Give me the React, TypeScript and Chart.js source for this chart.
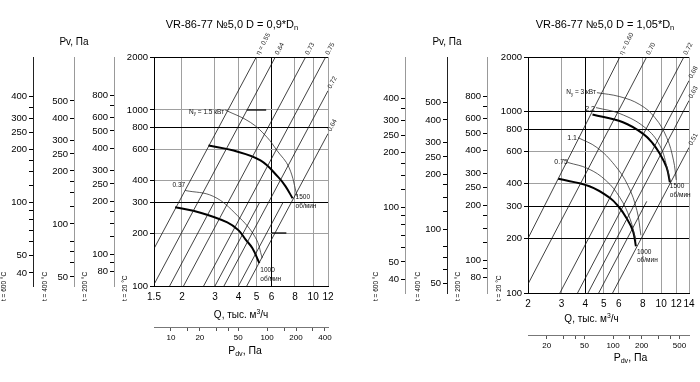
import React, { useEffect, useRef } from 'react';
import { Chart, registerables } from 'chart.js';

Chart.register(...registerables);

const FONT = '"Liberation Sans", Arial, Helvetica, sans-serif';

// ---------- pressure axes (shared by both panels) ----------
const pMainTicks = [100, 200, 300, 400, 600, 800, 1000, 2000];
const pRange = [100, 2000];
const t200Range = [65.8, 1316];
const t400Range = [44.4, 889];
const t600Range = [33.7, 673];
const t200Labelled = [80, 100, 200, 250, 300, 400, 500, 600, 800];
const t200Minor = [90, 125, 150, 175, 700];
const t400Labelled = [50, 100, 200, 250, 300, 400, 500];
const t400Minor = [60, 70, 80, 125, 150, 175];
const t600Labelled = [40, 50, 100, 200, 250, 300, 400];
const t600Minor = [60, 70, 80, 90, 125, 150, 175, 350];

// ---------- left panel (D = 0,9*Dn) ----------
const leftQTicks = [1.42, 2, 3, 4, 5, 6, 8, 10, 12];
const leftQTickLabels = ['1.5', '2', '3', '4', '5', '6', '8', '10', '12'];
const leftQRange = [1.42, 12];
const leftPdvRange = [6.67, 430];
const leftPdvLabelled = [10, 20, 50, 100, 200, 400];
const leftPdvMinor = [15, 30, 40, 150, 300];

const left1500Q = [2.77, 3.77, 5.24, 6.54, 7.13, 7.77];
const left1500P = [628, 588, 517, 414, 368, 315];
const left1000Q = [1.84, 2.51, 3.49, 4.01, 4.36, 4.75, 5.17];
const left1000P = [280, 261, 230, 207, 184, 164, 135];
const leftN15Q = [3.4, 4.63, 5.68, 6.42, 7.43, 8.24];
const leftN15P = [1000, 851, 700, 588, 473, 320];
const leftN037Q = [2.08, 2.94, 3.94, 4.92, 5.36];
const leftN037P = [349, 323, 252, 189, 144];

const leftEtaLines = [
  [1.42, 163, 4.98, 2000],
  [1.42, 102, 6.29, 2000],
  [2.04, 100, 9.12, 2000],
  [2.61, 100, 11.66, 2000],
  [3.35, 100, 12, 1286],
  [4.43, 100, 12, 734],
];
const leftEtaLabels = ['η = 0.55', '0.64', '0.73', '0.75', '0.72', '0.64'];
const leftExtraLines = [
  [1.72, 100, 2.98, 300],
  [3.0, 100, 5.2, 300],
  [4.0, 100, 6.93, 300],
];
const leftDarkSegs = [
  [4.43, 1000, 5.62, 1000],
  [6.0, 200, 7.2, 200],
];
const leftHDark = [2000, 800, 300, 100];
const leftVDark = [6];

// ---------- right panel (D = 1,05*Dn) ----------
const rightQTicks = [2, 3, 4, 5, 6, 8, 10, 12, 14];
const rightQTickLabels = ['2', '3', '4', '5', '6', '8', '10', '12', '14'];
const rightQRange = [2, 14];
const rightPdvRange = [12.7, 631];
const rightPdvLabelled = [20, 50, 100, 200, 500];
const rightPdvMinor = [30, 40, 150, 300, 400];

const right1500Q = [4.36, 6.3, 8.05, 9.04, 9.84, 10.67, 11.11];
const right1500P = [963, 873, 754, 667, 585, 494, 408];
const right1000Q = [2.88, 4.2, 5.37, 6.03, 6.56, 7.11, 7.37];
const right1000P = [426, 388, 335, 296, 260, 220, 181];
const rightN3Q = [4.6, 6.07, 7.73, 9.27, 10.7, 11.6, 12.0];
const rightN3P = [1272, 1209, 1093, 927, 719, 540, 420];
const rightN22Q = [4.55, 6.07, 8.22, 9.84, 10.84, 11.2];
const rightN22P = [1052, 975, 817, 650, 473, 406];
const rightN11Q = [3.66, 4.6, 5.72, 6.69, 7.46, 7.83];
const rightN11P = [719, 634, 505, 392, 285, 208];
const rightN075Q = [3.24, 4.13, 5.13, 6.07, 6.85, 7.37];
const rightN075P = [524, 485, 417, 336, 258, 195];

const rightEtaLines = [
  [2, 200, 6.07, 2000],
  [2, 112, 8.39, 2000],
  [2.94, 100, 13.16, 2000],
  [3.64, 100, 14, 1481],
  [4.13, 100, 14, 1150],
  [5.56, 100, 14, 634],
];
const rightEtaLabels = ['η = 0.60', '0.70', '0.72', '0.68', '0.63', '0.51'];
const rightExtraLines = [[4.7, 100, 8.4, 320]];
const rightDarkSegs: number[][] = [];
const rightHDark = [2000, 1000, 800, 300, 200, 100];
const rightVDark = [4];

type Part = { t: string; sub?: boolean; sup?: boolean };
type Note = { parts: Part[]; q: number; p: number; dx: number; dy: number; align: 'left' | 'right' | 'center'; size: number };

const last = (a: number[]) => a[a.length - 1];

const leftNotes: Note[] = [
  { parts: [{ t: '1500' }], q: last(left1500Q), p: last(left1500P), dx: 3, dy: -1, align: 'left', size: 6.5 },
  { parts: [{ t: 'об/мин' }], q: last(left1500Q), p: last(left1500P), dx: 3, dy: 8, align: 'left', size: 6.5 },
  { parts: [{ t: '1000' }], q: last(left1000Q), p: last(left1000P), dx: 1, dy: 7, align: 'left', size: 6.5 },
  { parts: [{ t: 'об/мин' }], q: last(left1000Q), p: last(left1000P), dx: 1, dy: 16, align: 'left', size: 6.5 },
  { parts: [{ t: 'N' }, { t: 'у', sub: true }, { t: ' = 1.5 кВт' }], q: leftN15Q[0], p: leftN15P[0], dx: -1, dy: 2, align: 'right', size: 6.5 },
  { parts: [{ t: '0.37' }], q: leftN037Q[0], p: leftN037P[0], dx: 0, dy: -5, align: 'right', size: 6.5 },
];
const rightNotes: Note[] = [
  { parts: [{ t: '1500' }], q: last(right1500Q), p: last(right1500P), dx: 0, dy: 4, align: 'left', size: 6.5 },
  { parts: [{ t: 'об/мин' }], q: last(right1500Q), p: last(right1500P), dx: 0, dy: 13, align: 'left', size: 6.5 },
  { parts: [{ t: '1000' }], q: last(right1000Q), p: last(right1000P), dx: 1, dy: 5.5, align: 'left', size: 6.5 },
  { parts: [{ t: 'об/мин' }], q: last(right1000Q), p: last(right1000P), dx: 1, dy: 13.5, align: 'left', size: 6.5 },
  { parts: [{ t: 'N' }, { t: 'у', sub: true }, { t: ' = 3 кВт' }], q: rightN3Q[0], p: rightN3P[0], dx: -1, dy: 0, align: 'right', size: 6.5 },
  { parts: [{ t: '2.2' }], q: rightN22Q[0], p: rightN22P[0], dx: -1, dy: 1, align: 'right', size: 7 },
  { parts: [{ t: '1.1' }], q: rightN11Q[0], p: rightN11P[0], dx: -1, dy: 0, align: 'right', size: 7 },
  { parts: [{ t: '0.75' }], q: rightN075Q[0], p: rightN075P[0], dx: 0, dy: 0, align: 'right', size: 7 },
];

type PanelDef = {
  title: Part[];
  titleDx: number;
  qTicks: number[];
  qTickLabels: string[];
  qRange: number[];
  pdvRange: number[];
  pdvLabelled: number[];
  pdvMinor: number[];
  thick: number[][][];
  thin: number[][][];
  eta: number[][];
  etaLabels: string[];
  extra: number[][];
  dark: number[][];
  hDark: number[];
  vDark: number[];
  notes: Note[];
  padding: { left: number; right: number; top: number; bottom: number };
  yWidths: number[]; // main, t200, t400, t600
  xHeight: number;
  pdvHeight: number;
  qTitleDx: number;
  qTitleDy: number;
  pdvTitleDx: number;
  pdvTitleDy: number;
};

const leftPanel: PanelDef = {
  title: [{ t: 'VR-86-77 №5,0 D = 0,9*D' }, { t: 'n', sub: true }],
  titleDx: -9,
  qTicks: leftQTicks,
  qTickLabels: leftQTickLabels,
  qRange: leftQRange,
  pdvRange: leftPdvRange,
  pdvLabelled: leftPdvLabelled,
  pdvMinor: leftPdvMinor,
  thick: [[left1500Q, left1500P], [left1000Q, left1000P]],
  thin: [[leftN15Q, leftN15P], [leftN037Q, leftN037P]],
  eta: leftEtaLines,
  etaLabels: leftEtaLabels,
  extra: leftExtraLines,
  dark: leftDarkSegs,
  hDark: leftHDark,
  vDark: leftVDark,
  notes: leftNotes,
  padding: { left: 0, right: 22, top: 57, bottom: 15 },
  yWidths: [40, 40, 41, 33],
  xHeight: 41,
  pdvHeight: 40,
  qTitleDx: 0,
  qTitleDy: 29,
  pdvTitleDx: 4,
  pdvTitleDy: 24,
};

const rightPanel: PanelDef = {
  title: [{ t: 'VR-86-77 №5,0 D = 1,05*D' }, { t: 'n', sub: true }],
  titleDx: -3.5,
  qTicks: rightQTicks,
  qTickLabels: rightQTickLabels,
  qRange: rightQRange,
  pdvRange: rightPdvRange,
  pdvLabelled: rightPdvLabelled,
  pdvMinor: rightPdvMinor,
  thick: [[right1500Q, right1500P], [right1000Q, right1000P]],
  thin: [[rightN3Q, rightN3P], [rightN22Q, rightN22P], [rightN11Q, rightN11P], [rightN075Q, rightN075P]],
  eta: rightEtaLines,
  etaLabels: rightEtaLabels,
  extra: rightExtraLines,
  dark: rightDarkSegs,
  hDark: rightHDark,
  vDark: rightVDark,
  notes: rightNotes,
  padding: { left: 22, right: 11, top: 57, bottom: 7 },
  yWidths: [41, 40, 42, 33],
  xHeight: 42,
  pdvHeight: 40,
  qTitleDx: -17,
  qTitleDy: 26,
  pdvTitleDx: 22,
  pdvTitleDy: 23,
};

function drawRich(ctx: CanvasRenderingContext2D, x: number, y: number, parts: Part[], size: number, align: 'left' | 'center' | 'right', color = '#000') {
  const fonts = parts.map((p) => `${p.sub || p.sup ? size * 0.68 : size}px ${FONT}`);
  const widths = parts.map((p, i) => {
    ctx.font = fonts[i];
    return ctx.measureText(p.t).width;
  });
  const total = widths.reduce((a, b) => a + b, 0);
  let cx = align === 'left' ? x : align === 'center' ? x - total / 2 : x - total;
  ctx.fillStyle = color;
  ctx.textAlign = 'left';
  ctx.textBaseline = 'middle';
  parts.forEach((p, i) => {
    ctx.font = fonts[i];
    ctx.fillText(p.t, cx, y + (p.sub ? size * 0.28 : p.sup ? -size * 0.32 : 0));
    cx += widths[i];
  });
}

function seg(s: number[], color: string, width: number) {
  return {
    data: [{ x: s[0], y: s[1] }, { x: s[2], y: s[3] }],
    showLine: true,
    borderColor: color,
    borderWidth: width,
    pointRadius: 0,
    tension: 0,
    xAxisID: 'x',
    yAxisID: 'y',
  };
}

function curve(qs: number[], ps: number[], color: string, width: number) {
  return {
    data: qs.map((q, i) => ({ x: q, y: ps[i] })),
    showLine: true,
    borderColor: color,
    borderWidth: width,
    pointRadius: 0,
    tension: 0.4,
    xAxisID: 'x',
    yAxisID: 'y',
  };
}

function pvAxis(range: number[], labelled: number[], minor: number[], weight: number, width: number, lineColor: string) {
  const all = [...labelled, ...minor].sort((a, b) => a - b);
  return {
    type: 'logarithmic',
    axis: 'y',
    position: 'left',
    min: range[0],
    max: range[1],
    weight,
    afterBuildTicks: (s: any) => {
      s.ticks = all.map((v) => ({ value: v }));
    },
    afterFit: (s: any) => {
      s.width = width;
    },
    ticks: {
      autoSkip: false,
      padding: 2,
      color: '#000',
      font: { size: 9.5, family: FONT },
      callback: (v: number) => (labelled.includes(v) ? String(v) : ''),
    },
    grid: { display: true, drawOnChartArea: false, drawTicks: true, tickLength: 4, tickColor: '#000', color: '#000' },
    border: { display: true, color: lineColor, width: 1 },
  };
}

function buildConfig(P: PanelDef, lineColors: string[]): any {
  const datasets: any[] = [];
  P.eta.forEach((l) => datasets.push(seg(l, '#111', 0.8)));
  P.extra.forEach((l) => datasets.push(seg(l, '#111', 0.8)));
  P.dark.forEach((l) => datasets.push(seg(l, '#000', 1.3)));
  P.thin.forEach(([q, p]) => datasets.push(curve(q, p, '#333', 0.8)));
  P.thick.forEach(([q, p]) => datasets.push(curve(q, p, '#000', 2)));

  const pdvAll = [...P.pdvLabelled, ...P.pdvMinor].sort((a, b) => a - b);

  const textPlugin = {
    id: 'panelText',
    afterDraw(chart: any) {
      const ctx: CanvasRenderingContext2D = chart.ctx;
      const xs = chart.scales.x;
      const ys = chart.scales.y;
      const ca = chart.chartArea;
      ctx.save();
      const cx = (ca.left + ca.right) / 2;
      drawRich(ctx, cx + P.titleDx, 25, P.title, 11, 'center');
      drawRich(ctx, chart.scales.y400.right, 42, [{ t: 'Pv, Па' }], 10, 'center');
      const tl: [string, string][] = [
        ['y600', 't = 600 °C'],
        ['y400', 't = 400 °C'],
        ['y200', 't = 200 °C'],
        ['y', 't = 20 °C'],
      ];
      tl.forEach(([id, txt]) => {
        const lineX = id === 'y' ? ca.left : chart.scales[id].right;
        ctx.save();
        ctx.translate(lineX - 29, 301);
        ctx.rotate(-Math.PI / 2);
        ctx.font = `6.5px ${FONT}`;
        ctx.fillStyle = '#000';
        ctx.textAlign = 'left';
        ctx.textBaseline = 'middle';
        ctx.fillText(txt, 0, 0);
        ctx.restore();
      });
      drawRich(ctx, cx + P.qTitleDx, ca.bottom + P.qTitleDy, [{ t: 'Q, тыс. м' }, { t: '3', sup: true }, { t: '/ч' }], 10, 'center');
      drawRich(ctx, cx + P.pdvTitleDx, chart.scales.xP.top + P.pdvTitleDy, [{ t: 'P' }, { t: 'dv', sub: true }, { t: ', Па' }], 10.5, 'center');

      // efficiency labels
      P.eta.forEach((l, i) => {
        const x1 = xs.getPixelForValue(l[0]);
        const y1 = ys.getPixelForValue(l[1]);
        const x2 = xs.getPixelForValue(l[2]);
        const y2 = ys.getPixelForValue(l[3]);
        const a = Math.atan2(y2 - y1, x2 - x1);
        ctx.save();
        ctx.translate(x2 + 3 * Math.cos(a), y2 + 3 * Math.sin(a));
        ctx.rotate(a);
        ctx.font = `6.5px ${FONT}`;
        ctx.fillStyle = '#222';
        ctx.textAlign = 'left';
        ctx.textBaseline = 'middle';
        ctx.fillText(P.etaLabels[i], 0, 0);
        ctx.restore();
      });

      // curve notes
      P.notes.forEach((n) => {
        const x = xs.getPixelForValue(n.q) + n.dx;
        const y = ys.getPixelForValue(n.p) + n.dy;
        drawRich(ctx, x, y, n.parts, n.size, n.align, '#111');
      });
      ctx.restore();
    },
  };

  return {
    type: 'scatter',
    data: { datasets },
    plugins: [textPlugin],
    options: {
      animation: false,
      responsive: false,
      devicePixelRatio: 1,
      events: [],
      layout: { padding: P.padding },
      plugins: { legend: { display: false }, tooltip: { enabled: false }, title: { display: false } },
      scales: {
        x: {
          type: 'logarithmic',
          position: 'bottom',
          min: P.qRange[0],
          max: P.qRange[1],
          weight: 0,
          afterBuildTicks: (s: any) => {
            s.ticks = P.qTicks.map((v) => ({ value: v }));
          },
          afterFit: (s: any) => {
            s.height = P.xHeight;
          },
          ticks: {
            autoSkip: false,
            maxRotation: 0,
            padding: 5,
            color: '#000',
            font: { size: 10, family: FONT },
            callback: (_v: number, i: number) => P.qTickLabels[i],
          },
          grid: {
            drawTicks: false,
            lineWidth: 1,
            color: (c: any) => (c.tick && P.vDark.includes(c.tick.value) ? '#000' : '#a0a0a0'),
          },
          border: { display: true, color: '#000', width: 1 },
        },
        xP: {
          type: 'logarithmic',
          axis: 'x',
          position: 'bottom',
          min: P.pdvRange[0],
          max: P.pdvRange[1],
          weight: 1,
          afterBuildTicks: (s: any) => {
            s.ticks = pdvAll.map((v) => ({ value: v }));
          },
          afterFit: (s: any) => {
            s.height = P.pdvHeight;
          },
          ticks: {
            autoSkip: false,
            maxRotation: 0,
            padding: 2,
            color: '#000',
            font: { size: 8, family: FONT },
            callback: (v: number) => (P.pdvLabelled.includes(v) ? String(v) : ''),
          },
          grid: { display: true, drawOnChartArea: false, drawTicks: true, tickLength: 4, tickColor: '#555', color: '#555' },
          border: { display: true, color: '#777', width: 1 },
        },
        y: {
          type: 'logarithmic',
          position: 'left',
          min: pRange[0],
          max: pRange[1],
          weight: 0,
          afterBuildTicks: (s: any) => {
            s.ticks = pMainTicks.map((v) => ({ value: v }));
          },
          afterFit: (s: any) => {
            s.width = P.yWidths[0];
          },
          ticks: {
            autoSkip: false,
            padding: 2,
            color: '#000',
            font: { size: 9.5, family: FONT },
            callback: (v: number) => String(v),
          },
          grid: {
            drawTicks: true,
            tickLength: 4,
            tickColor: '#000',
            lineWidth: 1,
            color: (c: any) => (c.tick && P.hDark.includes(c.tick.value) ? '#000' : '#a0a0a0'),
          },
          border: { display: true, color: '#000', width: 1 },
        },
        y200: pvAxis(t200Range, t200Labelled, t200Minor, 1, P.yWidths[1], lineColors[0]),
        y400: pvAxis(t400Range, t400Labelled, t400Minor, 2, P.yWidths[2], lineColors[1]),
        y600: pvAxis(t600Range, t600Labelled, t600Minor, 3, P.yWidths[3], lineColors[2]),
      },
    },
  };
}

function Panel({ P, left, lineColors }: { P: PanelDef; left: number; lineColors: string[] }) {
  const ref = useRef<HTMLCanvasElement>(null);
  useEffect(() => {
    const chart = new Chart(ref.current as HTMLCanvasElement, buildConfig(P, lineColors));
    return () => chart.destroy();
  }, []);
  return (
    <canvas
      ref={ref}
      width={350}
      height={382}
      style={{ position: 'absolute', left, top: 0, width: 350, height: 382 }}
    />
  );
}

export default function App() {
  return (
    <div style={{ position: 'absolute', left: 0, top: 0, width: 700, height: 382, background: '#fff', overflow: 'hidden' }}>
      <Panel P={leftPanel} left={0} lineColors={['#999', '#999', '#222']} />
      <Panel P={rightPanel} left={350} lineColors={['#999', '#222', '#999']} />
    </div>
  );
}
